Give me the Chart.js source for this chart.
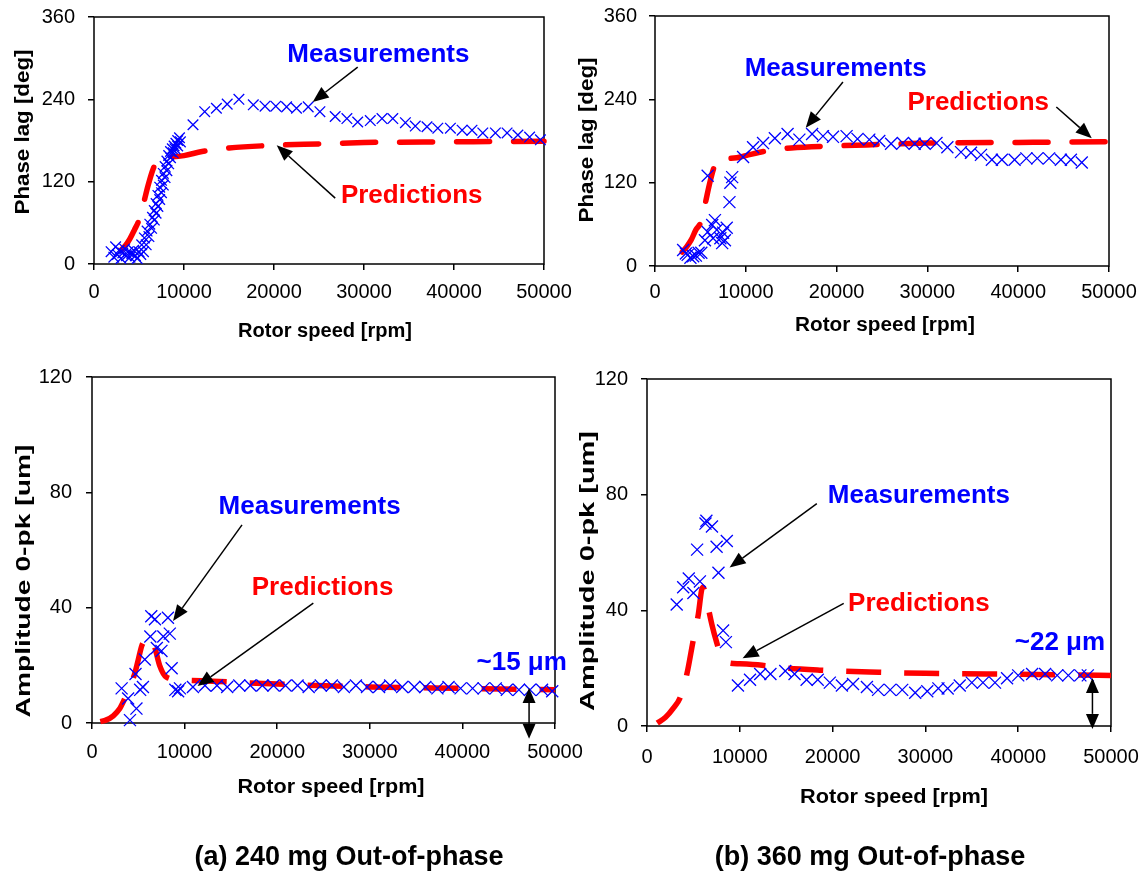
<!DOCTYPE html>
<html><head><meta charset="utf-8">
<script src="https://cdn.jsdelivr.net/npm/chart.js@4/dist/chart.umd.min.js"></script>
<style>
html,body{margin:0;padding:0;background:#fff;}
body{width:1145px;height:873px;position:relative;overflow:hidden;font-family:"Liberation Sans",Arial,sans-serif;}
canvas.layer{position:absolute;left:-30px;top:-30px;width:1205px;height:933px;}
.cap{position:absolute;font-weight:bold;font-size:27px;line-height:1;transform:translate(-50%,-50%);white-space:nowrap;color:#000;}
</style></head><body>
<canvas id="c1" class="layer" width="1205" height="933"></canvas>
<canvas id="c2" class="layer" width="1205" height="933"></canvas>
<canvas id="c3" class="layer" width="1205" height="933"></canvas>
<canvas id="c4" class="layer" width="1205" height="933"></canvas>
<div class="cap" style="left:349px;top:856px;">(a) 240 mg Out-of-phase</div>
<div class="cap" style="left:870px;top:856px;">(b) 360 mg Out-of-phase</div>
<script>
const FONT = '"Liberation Sans", Arial, Helvetica, sans-serif';
const BLUE = '#0000FF', RED = '#FF0000';

// ---- tick labels ----
const xTickValues = [0, 10000, 20000, 30000, 40000, 50000];
const phaseTickValues = [0, 120, 240, 360];
const ampTickValues = [0, 40, 80, 120];

// ---- (a) 240 mg: phase lag ----
const phaseA_measRpm = [1900,2200,2400,2600,2800,3000,3200,3400,3600,3800,4000,4200,4400,4600,4800,5000,5200,
  5300,5600,5900,6200,6500,6700,6900,7100,7300,7500,7700,7900,8100,8300,8500,8700,8900,9100,9300,9500,
  5500,5800,6100,6400,6700,6900,7100,7300,7500,7700,7900,8100,8300,8500,8800,9000,9300,9600,
  11000,12300,13600,14800,16100,17700,19000,20200,21400,22500,23800,25100,26800,28100,29300,30700,32000,33200,34600,35700,37000,38200,39600,40900,42000,43200,44600,45900,47100,48400,49600];
const phaseA_measDeg = [18,10,25,14,20,8,16,22,12,18,10,15,20,12,8,18,14,
  28,38,48,58,68,78,88,100,112,122,132,142,150,158,164,168,172,176,180,184,
  18,28,40,52,64,74,84,94,104,115,126,136,146,155,162,168,172,178,
  203,222,227,233,240,232,230,230,229,227,229,222,215,212,207,209,212,212,206,201,200,198,198,195,195,191,191,191,188,185,181];
const phaseA_predRpm = [3000,3500,4000,4500,5000,5500,6000,6500,7000,7500,8500,10000,12000,15000,20000,25000,30000,40000,50000];
const phaseA_predDeg = [20,27,37,50,64,88,114,136,150,155,156,158,164,169,173,175,177,178,179];

// ---- (b) 360 mg: phase lag ----
const phaseB_measRpm = [3100,3400,3600,3900,4200,4500,4800,5100,5500,5800,6300,6600,6800,7200,7500,7700,7900,7400,6400,5800,8500,8300,8200,
  9700,10800,11900,13200,14600,15900,17300,18500,19600,21100,22300,23600,24700,26000,27300,28600,29700,31000,32200,33700,34800,35900,37100,38200,39600,40900,42100,43400,44700,45800,47000];
const phaseB_measDeg = [23,18,16,12,14,15,19,19,37,49,59,66,52,40,48,37,55,33,40,130,128,120,92,
  157,171,177,184,190,182,190,187,186,187,183,182,180,176,177,176,176,177,171,164,163,160,153,153,153,155,155,155,153,153,149];
const phaseB_predRpm = [3000,3500,4000,4500,5000,5500,6000,6500,7000,8000,9000,10000,12000,15000,20000,25000,30000,40000,50000];
const phaseB_predDeg = [20,28,38,52,62,88,118,142,154,155,156,159,165,170,173,175,177,178,179];

// ---- (a) 240 mg: amplitude ----
const ampA_measRpm = [3200,3900,4100,4700,4800,5200,5500,5700,6300,6400,6800,7000,7500,7700,8200,8400,8600,9000,9300,9500,
  10900,12200,13500,14600,15900,17100,18400,19600,20900,22200,23400,24700,25900,27200,28500,29700,31000,32200,33500,34800,36000,37300,38500,39800,41100,42300,43600,44800,46100,47300,48600,49700];
const ampA_measUm = [12,8.5,1,17,5,11.5,12.5,22,30,37,36,26,25,30,36.5,31,19,11.5,11,12,
  12.5,13,13,12.5,13,13,13,13,13,13,12.5,13,13,12.5,13,12.5,12.5,13,12.5,12.5,12.5,12,12.5,12,12,12,12,11.5,11.5,11.5,11.5,11];
const ampA_predRpm = [900,1500,2300,3000,3400,4000,4600,5000,5400,5800,6300,6800,7300,8000,9500,13000,20000,30000,40000,50000];
const ampA_predUm = [0.5,1,2.5,5,7.5,12,17,22,27,29,30,26,20,16,15,14.5,13.5,12.5,12,11.5];

// ---- (b) 360 mg: amplitude ----
const ampB_measRpm = [3200,3900,4500,5000,5400,5700,6300,6400,7000,7500,7700,8600,8200,8500,9800,11100,12200,13300,14900,15900,17200,18400,19700,21000,22200,23700,24900,26200,27500,28900,30200,31400,32400,33700,35000,36200,37500,38800,40000,41500,42900,44200,45400,46700,47500];
const ampB_measUm = [42,48,51,46,61,50,70,71,69,62,53,64,33,29,14,16,18,18,19,18,16,16,15,14,14.5,13.5,12.5,12.5,12.5,11.5,12,13,13,14,15,15,15,16.5,17.5,18,18,17.5,17.5,17.5,17.5];
const ampB_predRpm = [1100,2000,2800,3600,4300,5000,5500,6000,6300,6600,7000,7500,8000,8600,10000,12400,15000,18600,25000,30000,40000,50000];
const ampB_predUm = [1,3,6,10,18,30,38,48,46,41,35,29,24,22,21.5,21,20,19.3,18.6,18.2,17.9,17.5];

const pts = (xs, ys) => xs.map((x, i) => ({x: x, y: ys[i]}));

// canvases are 30px larger on every side than the page, so tick labels never squeeze the plot
const OX = 30, OY = 30, CW = 1205, CH = 933;

function stretchedText(ctx, text, cx, cy, len, rotate, font, color) {
  ctx.save();
  ctx.font = font;
  const w = ctx.measureText(text).width;
  ctx.translate(cx, cy);
  if (rotate) ctx.rotate(-Math.PI / 2);
  ctx.scale(len / w, 1);
  ctx.textAlign = 'center';
  ctx.textBaseline = 'middle';
  ctx.fillStyle = color || '#000';
  ctx.fillText(text, 0, 0);
  ctx.restore();
}
function arrowHead(ctx, x1, y1, x2, y2, len, half) {
  const a = Math.atan2(y2 - y1, x2 - x1);
  const bx = x2 - len * Math.cos(a), by = y2 - len * Math.sin(a);
  ctx.beginPath();
  ctx.moveTo(x2, y2);
  ctx.lineTo(bx + half * Math.sin(a), by - half * Math.cos(a));
  ctx.lineTo(bx - half * Math.sin(a), by + half * Math.cos(a));
  ctx.closePath();
  ctx.fill();
  return [bx, by];
}

const framePlugin = {
  id: 'frame',
  beforeDatasetsDraw(chart) {
    const a = chart.chartArea, ctx = chart.ctx;
    ctx.save();
    ctx.strokeStyle = '#000';
    ctx.lineWidth = 1.5;
    ctx.strokeRect(a.left, a.top, a.right - a.left, a.bottom - a.top);
    ctx.restore();
  }
};
const notesPlugin = {
  id: 'notes',
  afterDatasetsDraw(chart, args, opts) {
    const ctx = chart.ctx, sx = chart.scales.x, sy = chart.scales.y;
    const X = v => sx.getPixelForValue(v), Y = v => sy.getPixelForValue(v);
    ctx.save();
    ctx.strokeStyle = '#000'; ctx.fillStyle = '#000'; ctx.lineWidth = 1.5;
    (opts.arrows || []).forEach(a => {
      const x1 = X(a[0]), y1 = Y(a[1]), x2 = X(a[2]), y2 = Y(a[3]);
      const b = arrowHead(ctx, x1, y1, x2, y2, 16, 6.5);
      ctx.beginPath(); ctx.moveTo(x1, y1); ctx.lineTo(b[0], b[1]); ctx.stroke();
    });
    (opts.double || []).forEach(d => {
      const x = X(d[0]), y1 = Y(d[1]), y2 = Y(d[2]);
      const b1 = arrowHead(ctx, x, y2, x, y1, 15, 6.5);
      const b2 = arrowHead(ctx, x, y1, x, y2, 15, 6.5);
      ctx.beginPath(); ctx.moveTo(x, b1[1]); ctx.lineTo(x, b2[1]); ctx.stroke();
    });
    (opts.labels || []).forEach(l => {
      ctx.font = 'bold 26px ' + FONT;
      ctx.textAlign = 'center'; ctx.textBaseline = 'middle';
      ctx.fillStyle = l.color;
      ctx.fillText(l.text, X(l.x), Y(l.y));
    });
    const t = opts.titles;
    stretchedText(ctx, t.y.text, t.y.cx + OX, t.y.cy + OY, t.y.len, true, 'bold 20px ' + FONT);
    stretchedText(ctx, t.x.text, t.x.cx + OX, t.x.cy + OY, t.x.len, false, 'bold 20px ' + FONT);
    ctx.restore();
  }
};

function makeChart(id, p) {
  const yW = 70, xH = 60;
  const L = p.plot[0] + OX, T = p.plot[1] + OY, R = p.plot[2] + OX, B = p.plot[3] + OY;
  const pad = {left: L - yW, top: T, right: CW - R, bottom: CH - B - xH};
  const tickFont = {family: FONT, size: 20};
  return new Chart(document.getElementById(id), {
    type: 'scatter',
    data: {datasets: [
      {data: pts(p.mX, p.mY), pointStyle: 'crossRot', pointRadius: p.radius, pointBorderColor: BLUE,
       pointBorderWidth: 1.3, pointBackgroundColor: BLUE, showLine: false, clip: false},
      {data: pts(p.pX, p.pY), showLine: true, borderColor: RED, borderWidth: 5.5, pointRadius: 0,
       borderDash: p.dash, borderCapStyle: p.cap, cubicInterpolationMode: 'monotone', clip: false}
    ]},
    options: {
      responsive: false, animation: false, devicePixelRatio: 1,
      layout: {padding: pad},
      plugins: {legend: {display: false}, tooltip: {enabled: false},
        notes: {labels: p.labels, arrows: p.arrows, double: p.double, titles: p.titles}},
      scales: {
        x: {type: 'linear', min: 0, max: 50000,
          afterFit(s) { s.height = xH; },
          afterBuildTicks(s) { s.ticks = xTickValues.map(v => ({value: v})); },
          ticks: {font: tickFont, color: '#000', padding: p.xPad, maxRotation: 0, autoSkip: false, callback: v => String(v)},
          grid: {drawOnChartArea: false, tickLength: 6, color: '#000', lineWidth: 1.5},
          border: {display: false}},
        y: {type: 'linear', min: 0, max: p.yTicks[p.yTicks.length - 1],
          afterFit(s) { s.width = yW; },
          afterBuildTicks(s) { s.ticks = p.yTicks.map(v => ({value: v})); },
          ticks: {font: tickFont, color: '#000', padding: p.yPad, autoSkip: false, callback: v => String(v)},
          grid: {drawOnChartArea: false, tickLength: 6, color: '#000', lineWidth: 1.5},
          border: {display: false}}
      }
    },
    plugins: [framePlugin, notesPlugin]
  });
}

makeChart('c1', {
  plot: [94, 17, 544, 264], yTicks: phaseTickValues, xPad: 10, yPad: 13, radius: 7.5,
  mX: phaseA_measRpm, mY: phaseA_measDeg, pX: phaseA_predRpm, pY: phaseA_predDeg,
  dash: [33, 24], cap: 'round',
  labels: [{text: 'Measurements', x: 31600, y: 305, color: BLUE}, {text: 'Predictions', x: 35300, y: 99, color: RED}],
  arrows: [[29300, 287, 24300, 236], [26800, 96, 20300, 173]],
  titles: {y: {text: 'Phase lag [deg]', cx: 23, cy: 132, len: 165}, x: {text: 'Rotor speed [rpm]', cx: 325, cy: 331, len: 174}}
});
makeChart('c2', {
  plot: [655, 16, 1109, 266], yTicks: phaseTickValues, xPad: 8, yPad: 12, radius: 8.5,
  mX: phaseB_measRpm, mY: phaseB_measDeg, pX: phaseB_predRpm, pY: phaseB_predDeg,
  dash: [33, 24], cap: 'round',
  labels: [{text: 'Measurements', x: 19900, y: 284, color: BLUE}, {text: 'Predictions', x: 35600, y: 235, color: RED}],
  arrows: [[20700, 265, 16600, 199], [44200, 229, 48100, 184]],
  titles: {y: {text: 'Phase lag [deg]', cx: 587, cy: 140, len: 165}, x: {text: 'Rotor speed [rpm]', cx: 885, cy: 325, len: 180}}
});
makeChart('c3', {
  plot: [92, 377, 555, 723], yTicks: ampTickValues, xPad: 11, yPad: 14, radius: 8.5,
  mX: ampA_measRpm, mY: ampA_measUm, pX: ampA_predRpm, pY: ampA_predUm,
  dash: [35, 23], cap: 'butt',
  labels: [{text: 'Measurements', x: 23500, y: 74.9, color: BLUE}, {text: 'Predictions', x: 24900, y: 46.8, color: RED},
           {text: '~15 μm', x: 46400, y: 20.8, color: BLUE}],
  arrows: [[16200, 68.7, 8750, 35.4], [23900, 41.6, 11400, 12.8]],
  double: [[47200, 12.1, -5.5]],
  titles: {y: {text: 'Amplitude 0-pk [um]', cx: 24, cy: 581, len: 273}, x: {text: 'Rotor speed [rpm]', cx: 331, cy: 787, len: 187}}
});
makeChart('c4', {
  plot: [647, 379, 1111, 726], yTicks: ampTickValues, xPad: 13, yPad: 13, radius: 8.5,
  mX: ampB_measRpm, mY: ampB_measUm, pX: ampB_predRpm, pY: ampB_predUm,
  dash: [35, 23], cap: 'butt',
  labels: [{text: 'Measurements', x: 29300, y: 79.7, color: BLUE}, {text: 'Predictions', x: 29300, y: 42.4, color: RED},
           {text: '~22 μm', x: 44500, y: 28.6, color: BLUE}],
  arrows: [[18300, 76.9, 8900, 54.8], [21200, 42.4, 10300, 23.4]],
  double: [[48000, 16.6, -1]],
  titles: {y: {text: 'Amplitude 0-pk [um]', cx: 588, cy: 571, len: 280}, x: {text: 'Rotor speed [rpm]', cx: 894, cy: 797, len: 188}}
});
</script>
</body></html>
